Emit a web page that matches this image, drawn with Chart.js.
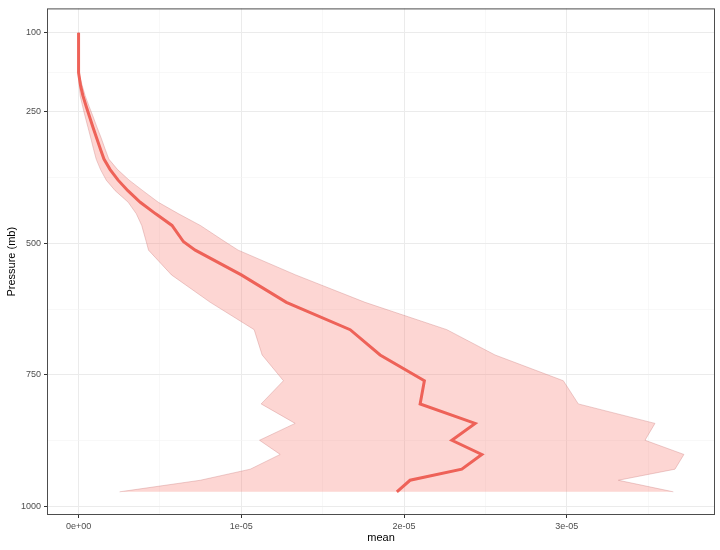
<!DOCTYPE html>
<html>
<head>
<meta charset="utf-8">
<script src="https://cdn.jsdelivr.net/npm/chart.js@4.4.1/dist/chart.umd.min.js"></script>
<style>
html,body{margin:0;padding:0;background:#fff;}
#wrap{width:720px;height:550px;}
</style>
</head>
<body>
<div id="wrap"><canvas id="c" width="720" height="550"></canvas></div>
<script>
// Pressure levels (mb)
const pressure = [100, 140, 176, 200, 220, 240, 260, 280, 300, 320, 340, 360, 380, 400, 422, 444, 466, 497, 513, 560, 612, 664, 712, 761, 805, 842, 874, 901, 929, 950, 972];
// Mean profile
const meanValues = [0, 0, 0, 0.012e-5, 0.027e-5, 0.047e-5, 0.068e-5, 0.089e-5, 0.111e-5, 0.133e-5, 0.156e-5, 0.194e-5, 0.243e-5, 0.303e-5, 0.379e-5, 0.474e-5, 0.574e-5, 0.645e-5, 0.717e-5, 1.00e-5, 1.277e-5, 1.669e-5, 1.853e-5, 2.125e-5, 2.099e-5, 2.437e-5, 2.294e-5, 2.478e-5, 2.355e-5, 2.037e-5, 1.956e-5];
// Ribbon upper bound
const upperValues = [0, 0, 0.002e-5, 0.022e-5, 0.041e-5, 0.065e-5, 0.090e-5, 0.114e-5, 0.139e-5, 0.162e-5, 0.186e-5, 0.240e-5, 0.311e-5, 0.395e-5, 0.490e-5, 0.615e-5, 0.748e-5, 0.900e-5, 0.981e-5, 1.334e-5, 1.760e-5, 2.263e-5, 2.559e-5, 2.979e-5, 3.071e-5, 3.542e-5, 3.481e-5, 3.720e-5, 3.665e-5, 3.317e-5, 3.655e-5];
// Ribbon lower bound
const lowerValues = [0, 0, 0, 0.004e-5, 0.010e-5, 0.025e-5, 0.041e-5, 0.058e-5, 0.075e-5, 0.091e-5, 0.108e-5, 0.135e-5, 0.170e-5, 0.225e-5, 0.305e-5, 0.355e-5, 0.388e-5, 0.416e-5, 0.430e-5, 0.571e-5, 0.809e-5, 1.079e-5, 1.128e-5, 1.259e-5, 1.122e-5, 1.331e-5, 1.112e-5, 1.239e-5, 1.055e-5, 0.748e-5, 0.252e-5];

const xMajorTicks = [0, 1e-5, 2e-5, 3e-5];
const xTickLabels = ['0e+00', '1e-05', '2e-05', '3e-05'];
const xMinorTicks = [0.5e-5, 1.5e-5, 2.5e-5, 3.5e-5];
const yMajorTicks = [100, 250, 500, 750, 1000];
const yTickLabels = ['100', '250', '500', '750', '1000'];
const yMinorTicks = [175, 375, 625, 875];

const meanData = pressure.map((p, i) => ({x: meanValues[i], y: p}));
const upperData = pressure.map((p, i) => ({x: upperValues[i], y: p}));
const lowerData = pressure.map((p, i) => ({x: lowerValues[i], y: p}));
const ribbonData = upperData.concat(lowerData.slice().reverse());

const FONT = "'Liberation Sans', Arial, sans-serif";

function findIdx(arr, v) {
  return arr.findIndex(t => Math.abs(t - v) < Math.max(1e-12, Math.abs(t) * 1e-9));
}
function gridStyle(majors) {
  return {
    color: ctx => (ctx.tick && findIdx(majors, ctx.tick.value) >= 0) ? '#EBEBEB' : '#F4F4F4',
    lineWidth: ctx => (ctx.tick && findIdx(majors, ctx.tick.value) >= 0) ? 1 : 0.6,
    tickColor: ctx => (ctx.tick && findIdx(majors, ctx.tick.value) >= 0) ? '#333333' : 'rgba(0,0,0,0)',
    tickLength: 3,
    tickWidth: 1,
    drawTicks: true
  };
}

const panelBorder = {
  id: 'panelBorder',
  afterDatasetsDraw(chart) {
    const {ctx, chartArea: a} = chart;
    ctx.save();
    ctx.strokeStyle = '#4d4d4d';
    ctx.lineWidth = 1;
    ctx.strokeRect(a.left + 0.5, a.top + 0.5, a.right - a.left - 1, a.bottom - a.top - 1);
    ctx.restore();
  }
};

const outline = {
  borderColor: 'rgba(200,120,120,0.5)',
  borderWidth: 0.7,
  pointRadius: 0,
  tension: 0,
  fill: false,
  order: 1
};

new Chart(document.getElementById('c'), {
  type: 'line',
  data: {
    datasets: [
      {
        label: 'mean',
        data: meanData,
        borderColor: '#EE6258',
        borderWidth: 3,
        pointRadius: 0,
        tension: 0,
        fill: false,
        order: 0
      },
      Object.assign({label: 'upper', data: upperData}, outline),
      Object.assign({label: 'lower', data: lowerData}, outline),
      {
        label: 'range',
        data: ribbonData,
        borderWidth: 0,
        borderColor: 'rgba(0,0,0,0)',
        backgroundColor: 'rgba(248,118,109,0.3)',
        pointRadius: 0,
        tension: 0,
        fill: 'shape',
        order: 2
      }
    ]
  },
  options: {
    responsive: false,
    animation: false,
    layout: {padding: {top: 5, right: 5, bottom: 0, left: 0}},
    plugins: {legend: {display: false}, tooltip: {enabled: false}},
    scales: {
      x: {
        type: 'linear',
        min: -0.194e-5,
        max: 3.911e-5,
        afterBuildTicks: s => {
          s.ticks = xMajorTicks.concat(xMinorTicks).sort((a, b) => a - b).map(v => ({value: v}));
        },
        afterFit: s => { s.height = 35; },
        border: {display: false},
        grid: gridStyle(xMajorTicks),
        ticks: {
          autoSkip: false, maxRotation: 0, padding: 3, color: '#4D4D4D',
          font: {family: FONT, size: 9},
          callback: v => { const i = findIdx(xMajorTicks, v); return i >= 0 ? xTickLabels[i] : ''; }
        },
        title: {display: true, text: 'mean', color: '#000', font: {family: FONT, size: 11}, padding: {top: 0, bottom: 5}}
      },
      y: {
        type: 'linear',
        reverse: true,
        min: 53.8,
        max: 1016,
        afterBuildTicks: s => {
          s.ticks = yMajorTicks.concat(yMinorTicks).sort((a, b) => a - b).map(v => ({value: v}));
        },
        afterFit: s => { s.width = 47; },
        border: {display: false},
        grid: gridStyle(yMajorTicks),
        ticks: {
          autoSkip: false, padding: 3, color: '#4D4D4D',
          font: {family: FONT, size: 9},
          callback: v => { const i = findIdx(yMajorTicks, v); return i >= 0 ? yTickLabels[i] : ''; }
        },
        title: {display: true, text: 'Pressure (mb)', color: '#000', font: {family: FONT, size: 11}, padding: {top: 5, bottom: 0}}
      }
    }
  },
  plugins: [panelBorder]
});
</script>
</body>
</html>
